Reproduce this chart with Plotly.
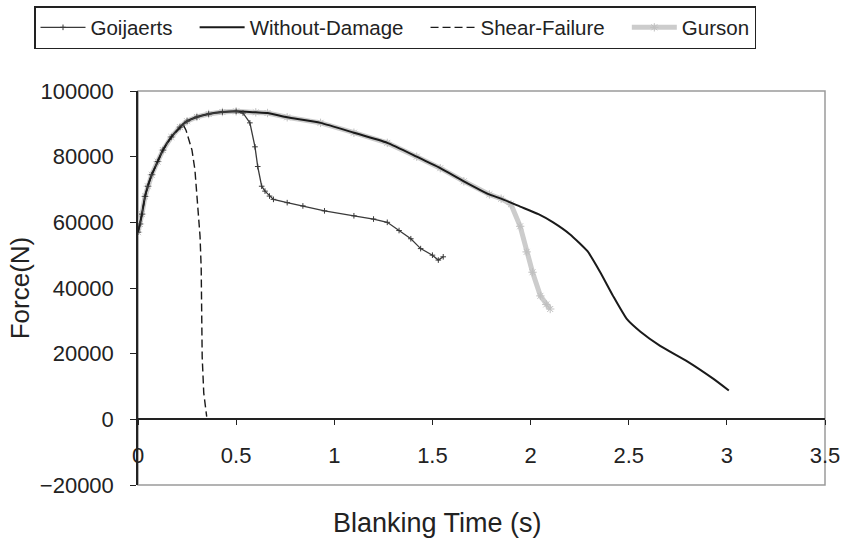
import plotly.graph_objects as go

# Shared loading branch (s, N)
rise_t = [0.0, 0.01, 0.02, 0.036, 0.05, 0.07, 0.1, 0.127, 0.17, 0.214]
rise_f = [57000, 59500, 62500, 67900, 71000, 74500, 78500, 82000, 86000, 89000]

# Shear-Failure: drops first
shear_t = rise_t + [0.23, 0.245, 0.26, 0.275, 0.29, 0.306, 0.316, 0.322, 0.325, 0.327, 0.335, 0.35]
shear_f = rise_f + [89800, 88000, 85000, 82000, 76000, 64000, 55800, 46000, 30000, 19000, 8000, 800]

# Common plateau up to 0.5 s
plat_t = [0.25, 0.3, 0.36, 0.43, 0.5]
plat_f = [90800, 92100, 93000, 93600, 93800]

# Goijaerts
goij_t = rise_t + plat_t + [0.535, 0.57, 0.596, 0.61, 0.63, 0.647, 0.67, 0.69, 0.76, 0.84, 0.95,
                            1.1, 1.2, 1.27, 1.33, 1.39, 1.44, 1.5, 1.53, 1.555]
goij_f = rise_f + plat_f + [93300, 90300, 83000, 77000, 71000, 69500, 68000, 67000, 66000, 65000,
                            63500, 62000, 61000, 60000, 57500, 55000, 52000, 50000, 48500, 49500]

# Without-Damage
decl_t = [0.6, 0.66, 0.76, 0.93, 1.1, 1.27, 1.42, 1.54, 1.66, 1.79, 1.85]
decl_f = [93500, 93300, 92000, 90300, 87300, 84200, 80000, 76500, 72500, 68500, 67200]
wd_t = rise_t + plat_t + decl_t + [1.947, 2.04, 2.115, 2.2, 2.29, 2.355, 2.42, 2.49, 2.56, 2.66,
                                   2.8, 2.93, 3.01]
wd_f = rise_f + plat_f + decl_f + [64800, 62500, 60000, 56400, 51200, 44800, 37600, 30600, 26700,
                                   22400, 17600, 12400, 8800]

# Gurson
gur_t = rise_t + plat_t + decl_t + [1.9, 1.947, 1.98, 2.01, 2.05, 2.08, 2.1]
gur_f = rise_f + plat_f + decl_f + [65500, 58800, 51000, 44800, 37600, 35000, 33600]

x_ticks = [0, 0.5, 1, 1.5, 2, 2.5, 3, 3.5]
y_ticks = [-20000, 0, 20000, 40000, 60000, 80000, 100000]

FONT = "Liberation Sans, Arial, sans-serif"
PAD = "\u00a0\u00a0\u00a0"
fig = go.Figure()

fig.add_trace(go.Scatter(
    x=gur_t, y=gur_f, name="Gurson", mode="lines+markers", legendrank=4,
    line=dict(color="#cccccc", width=5),
    marker=dict(symbol="asterisk-open", size=7, color="#c0c0c0", line=dict(width=1, color="#c0c0c0"))))
fig.add_trace(go.Scatter(
    x=wd_t, y=wd_f, name="Without-Damage" + PAD, mode="lines", legendrank=2,
    line=dict(color="#1a1a1a", width=2, shape="spline", smoothing=0.5)))
fig.add_trace(go.Scatter(
    x=goij_t, y=goij_f, name="Goijaerts" + PAD, mode="lines+markers", legendrank=1,
    line=dict(color="#3a3a3a", width=1.3),
    marker=dict(symbol="cross-thin-open", size=4, color="#3a3a3a", line=dict(width=1, color="#3a3a3a"))))
fig.add_trace(go.Scatter(
    x=shear_t, y=shear_f, name="Shear-Failure" + PAD, mode="lines", legendrank=3,
    line=dict(color="#1a1a1a", width=1.4, dash="8px,4px")))

fig.add_shape(type="rect", xref="x domain", yref="y domain", x0=0, x1=1, y0=0, y1=1,
              line=dict(color="#9a9a9a", width=1.5), layer="below")

fig.update_layout(
    width=842, height=541,
    margin=dict(l=138, r=17, t=91, b=56, autoexpand=False),
    paper_bgcolor="white", plot_bgcolor="white",
    font=dict(family=FONT, color="#222222", size=22),
    showlegend=True,
    legend=dict(orientation="h", xref="paper", yref="paper",
                x=(34 - 138) / 687, y=(485 - 6) / 394, xanchor="left", yanchor="top",
                bordercolor="#222222", borderwidth=1.5, font=dict(size=20.5),
                itemwidth=45, tracegroupgap=0, bgcolor="white"),
    xaxis=dict(range=[0, 3.5], tickvals=x_ticks, anchor="free", position=1 / 6,
               showline=True, linecolor="#222222", linewidth=1.5, showgrid=False, zeroline=False,
               ticks="outside", ticklen=5, tickcolor="#222222", ticklabelstandoff=12,
               tickfont=dict(size=22)),
    yaxis=dict(range=[-20000, 100000], tickvals=y_ticks, tickformat="d",
               showline=True, linecolor="#222222", linewidth=1.5, showgrid=False, zeroline=False,
               ticks="outside", ticklen=6, tickcolor="#222222", ticklabelstandoff=12,
               tickfont=dict(size=22),
               title=dict(text="Force(N)", font=dict(size=26), standoff=3)),
    annotations=[dict(text="Blanking Time (s)", xref="paper", yref="paper",
                      x=(437 - 138) / 687, y=(485 - 523) / 394, xanchor="center", yanchor="middle",
                      showarrow=False, font=dict(size=27))],
)

fig.write_html("out.html")
